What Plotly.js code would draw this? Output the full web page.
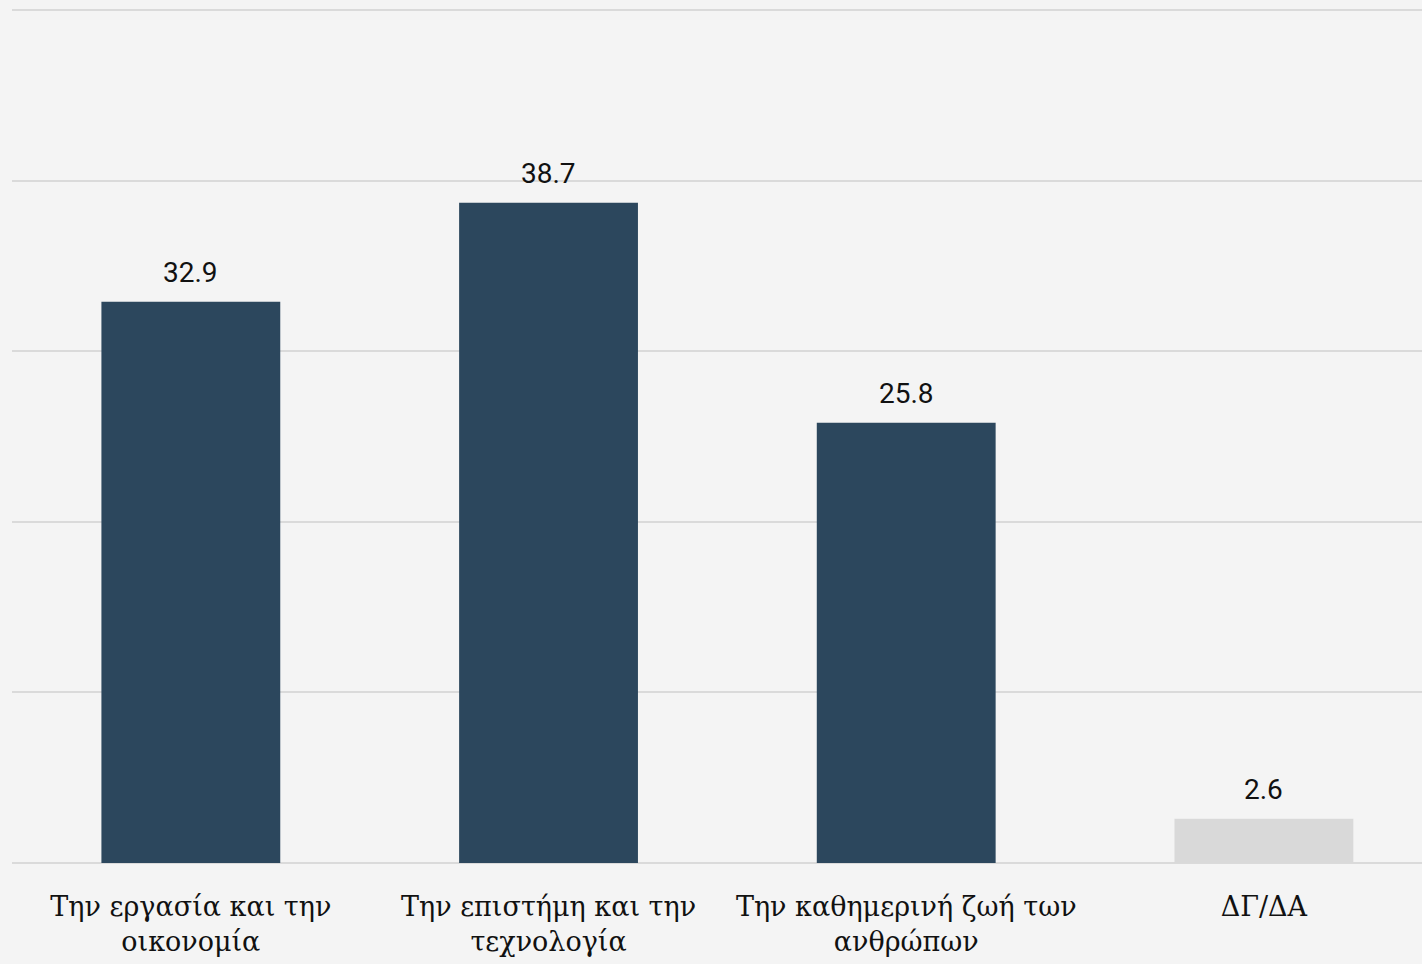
<!DOCTYPE html>
<html>
<head>
<meta charset="utf-8">
<script src="https://cdn.plot.ly/plotly-3.0.1.min.js"></script>
<style>html,body{margin:0;padding:0;background:#f4f4f4;}#chart{width:1422px;height:964px;}</style>
</head>
<body>
<div id="chart"></div>
<script>
var categories = ["Την εργασία και την<br>οικονομία", "Την επιστήμη και την<br>τεχνολογία", "Την καθημερινή ζωή των<br>ανθρώπων", "ΔΓ/ΔΑ"];
var values = [32.9, 38.7, 25.8, 2.6];
var valueLabels = ["32.9", "38.7", "25.8", "2.6"];
var barColors = ["#2c475d", "#2c475d", "#2c475d", "#d9d9d9"];

var trace = {
  type: 'bar',
  x: [0, 1, 2, 3],
  y: values,
  width: 0.5,
  marker: {color: barColors},
  hoverinfo: 'none'
};

var annotations = values.map(function(v, i) {
  return {
    x: i, y: v, xref: 'x', yref: 'y',
    text: valueLabels[i], showarrow: false,
    yanchor: 'bottom', yshift: 11,
    font: {family: 'Roboto', size: 28, color: '#111111'}
  };
});

var layout = {
  width: 1422, height: 964,
  paper_bgcolor: '#f4f4f4', plot_bgcolor: '#f4f4f4',
  margin: {l: 12, r: 0, t: 9, b: 101},
  showlegend: false,
  bargap: 0.5,
  xaxis: {
    range: [-0.5, 3.442],
    tickmode: 'array', tickvals: [0, 1, 2, 3], ticktext: categories,
    showgrid: false, zeroline: false, showline: false, ticks: '',
    ticklabelstandoff: 25,
    tickfont: {family: 'DejaVu Serif', size: 27, color: '#111111'},
    fixedrange: true
  },
  yaxis: {
    range: [0, 50.06], tickvals: [0, 10, 20, 30, 40, 50], showticklabels: false,
    showgrid: true, gridcolor: '#dadada', gridwidth: 2,
    zeroline: true, zerolinecolor: '#dadada', zerolinewidth: 2,
    fixedrange: true
  },
  annotations: annotations
};

Plotly.newPlot('chart', [trace], layout, {displayModeBar: false, staticPlot: true});
</script>
</body>
</html>
